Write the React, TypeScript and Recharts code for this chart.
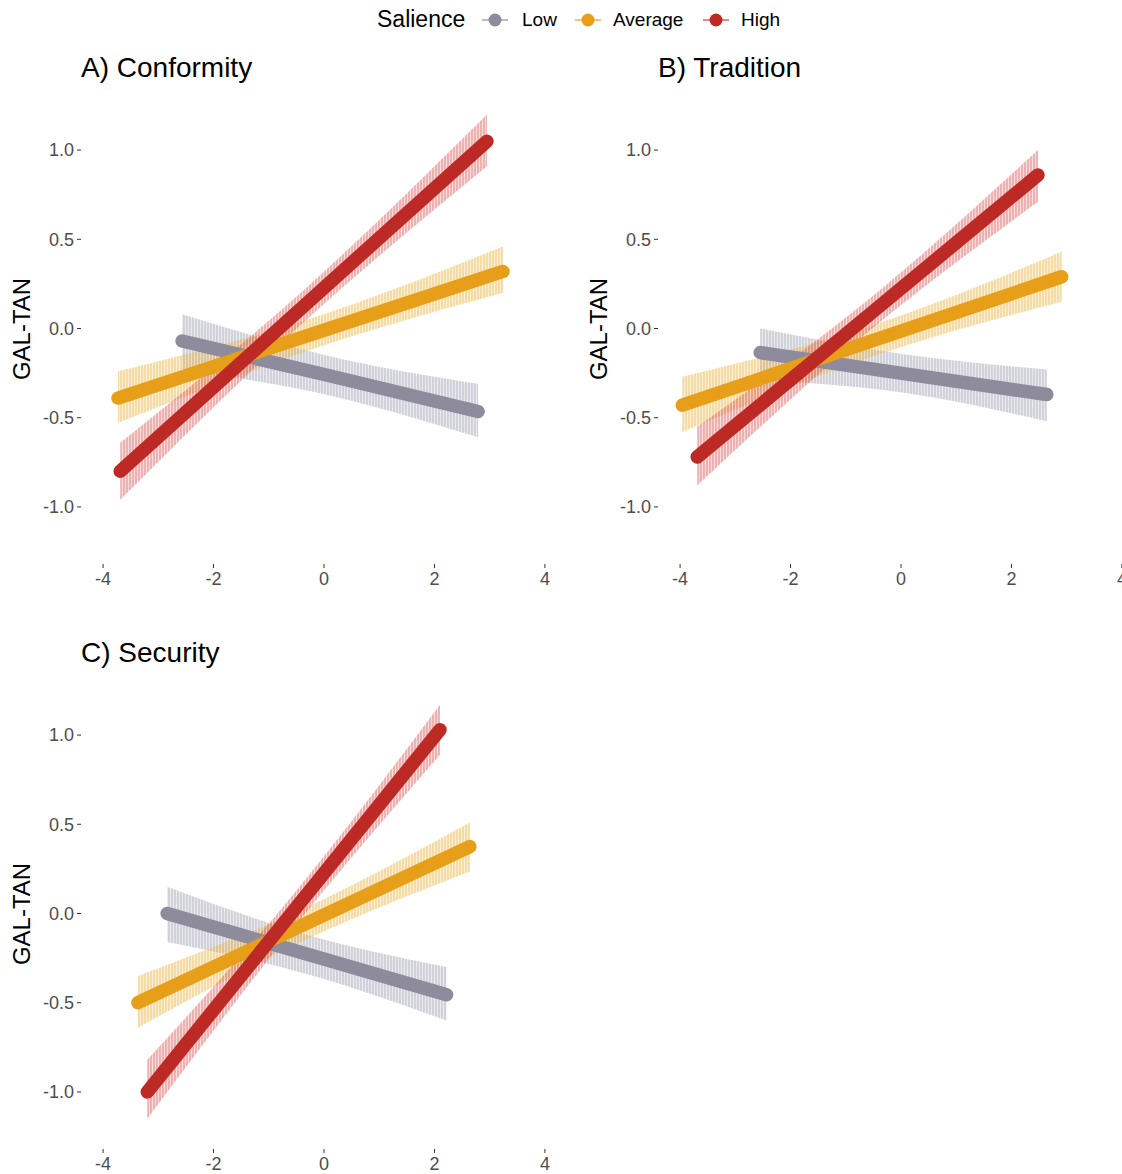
import React from 'react';
import { ComposedChart, Line, Area, XAxis, YAxis } from 'recharts';

// values: x = predictor, y = fitted GAL-TAN, lo/hi = band
const conformityLow = [
    { x: -2.57, y: -0.07, lo: -0.23, hi: 0.08 },
    { x: 0.1, y: -0.265, lo: -0.375, hi: -0.155 },
    { x: 2.79, y: -0.465, lo: -0.61, hi: -0.31 },
];
const conformityAverage = [
    { x: -3.73, y: -0.39, lo: -0.53, hi: -0.24 },
    { x: -0.25, y: -0.035, lo: -0.12, hi: 0.055 },
    { x: 3.24, y: 0.32, lo: 0.2, hi: 0.46 },
];
const conformityHigh = [
    { x: -3.69, y: -0.8, lo: -0.96, hi: -0.64 },
    { x: -0.37, y: 0.125, lo: 0.035, hi: 0.215 },
    { x: 2.95, y: 1.05, lo: 0.91, hi: 1.2 },
];

const traditionLow = [
    { x: -2.55, y: -0.135, lo: -0.29, hi: 0.0 },
    { x: 0.05, y: -0.253, lo: -0.36, hi: -0.145 },
    { x: 2.64, y: -0.37, lo: -0.52, hi: -0.23 },
];
const traditionAverage = [
    { x: -3.96, y: -0.43, lo: -0.58, hi: -0.27 },
    { x: -0.5, y: -0.067, lo: -0.155, hi: 0.02 },
    { x: 2.91, y: 0.29, lo: 0.15, hi: 0.43 },
];
const traditionHigh = [
    { x: -3.69, y: -0.72, lo: -0.88, hi: -0.55 },
    { x: -0.6, y: 0.071, lo: -0.02, hi: 0.16 },
    { x: 2.48, y: 0.86, lo: 0.71, hi: 1.0 },
];

const securityLow = [
    { x: -2.84, y: 0.0, lo: -0.16, hi: 0.15 },
    { x: -0.3, y: -0.228, lo: -0.34, hi: -0.12 },
    { x: 2.22, y: -0.455, lo: -0.6, hi: -0.3 },
];
const securityAverage = [
    { x: -3.37, y: -0.5, lo: -0.64, hi: -0.35 },
    { x: -0.35, y: -0.06, lo: -0.15, hi: 0.03 },
    { x: 2.64, y: 0.375, lo: 0.235, hi: 0.51 },
];
const securityHigh = [
    { x: -3.2, y: -1.0, lo: -1.15, hi: -0.82 },
    { x: -0.55, y: 0.015, lo: -0.08, hi: 0.11 },
    { x: 2.1, y: 1.03, lo: 0.89, hi: 1.17 },
];

const xTicks = [-4, -2, 0, 2, 4];
const yTicks = [-1, -0.5, 0, 0.5, 1];
const levels = ['Low', 'Average', 'High'];

const LINE_COLORS: Record<string, string> = { Low: '#8D8B9C', Average: '#E79F1A', High: '#BD2A26' };
const HATCH_COLORS: Record<string, string> = { Low: '#A4A3B4', Average: '#EDB54A', High: '#E0625F' };

const FONT = '"Liberation Sans", Arial, Helvetica, sans-serif';
const W = 600;
const H = 600;

type Row = { x: number; y: number; lo: number; hi: number };

const Panel = ({ id, title, left, top, series }: { id: string; title: string; left: number; top: number; series: Row[][] }) => (
    <>
        <div style={{ position: 'absolute', left: left + 81, top: top + 54, fontSize: 28, lineHeight: '28px', color: '#000', whiteSpace: 'nowrap' }}>
            {title}
        </div>
        <div
            style={{
                position: 'absolute',
                left: left + 22,
                top: top + 329,
                fontSize: 24,
                lineHeight: '24px',
                whiteSpace: 'nowrap',
                transform: 'translate(-50%, -50%) rotate(-90deg)',
            }}
        >
            GAL-TAN
        </div>
        <div style={{ position: 'absolute', left, top }}>
            <ComposedChart width={W} height={H} margin={{ top: 93, right: 33, left: 0, bottom: 6 }}>
                <defs>
                    {levels.map((lv) => (
                        <pattern key={lv} id={`hatch-${id}-${lv}`} width={3} height={10} patternUnits='userSpaceOnUse'>
                            <rect width={3} height={10} fill={HATCH_COLORS[lv]} fillOpacity={0.22} />
                            <line x1={1} y1={0} x2={1} y2={10} stroke={HATCH_COLORS[lv]} strokeOpacity={0.6} strokeWidth={1.2} />
                        </pattern>
                    ))}
                </defs>
                <XAxis
                    type='number'
                    dataKey='x'
                    domain={[-4.4, 4.4]}
                    ticks={xTicks}
                    allowDataOverflow
                    axisLine={false}
                    tickSize={4}
                    tickMargin={4}
                    tickLine={{ stroke: '#333333' }}
                    tick={{ fill: '#4D4D4D', fontSize: 18, fontFamily: FONT }}
                    height={30}
                />
                <YAxis
                    type='number'
                    domain={[-1.32, 1.32]}
                    ticks={yTicks}
                    allowDataOverflow
                    axisLine={false}
                    tickSize={4}
                    tickMargin={3}
                    tickLine={{ stroke: '#333333' }}
                    tickFormatter={(v: number) => v.toFixed(1)}
                    tick={{ fill: '#4D4D4D', fontSize: 18, fontFamily: FONT }}
                    width={81}
                />
                {series.map((d, i) => (
                    <Area
                        key={`band-${levels[i]}`}
                        data={d}
                        type='monotone'
                        dataKey={(r: Row) => [r.lo, r.hi]}
                        stroke='none'
                        fill={`url(#hatch-${id}-${levels[i]})`}
                        fillOpacity={1}
                        dot={false}
                        activeDot={false}
                        isAnimationActive={false}
                    />
                ))}
                {series.map((d, i) => (
                    <Line
                        key={`line-${levels[i]}`}
                        data={d}
                        type='linear'
                        dataKey='y'
                        stroke={LINE_COLORS[levels[i]]}
                        strokeWidth={13.5}
                        strokeLinecap='round'
                        dot={false}
                        activeDot={false}
                        isAnimationActive={false}
                    />
                ))}
            </ComposedChart>
        </div>
    </>
);

const LegendKey = ({ lv, left }: { lv: string; left: number }) => (
    <svg style={{ position: 'absolute', left, top: 13 }} width={26} height={14}>
        <line x1={0} y1={7} x2={26} y2={7} stroke={HATCH_COLORS[lv]} strokeWidth={1.5} />
        <circle cx={13} cy={7} r={6.5} fill={LINE_COLORS[lv]} />
    </svg>
);

export default function App() {
    return (
        <div
            style={{
                position: 'absolute',
                left: 0,
                top: 0,
                width: 1122,
                height: 1174,
                overflow: 'hidden',
                background: '#fff',
                fontFamily: FONT,
                color: '#000',
            }}
        >
            <div style={{ position: 'absolute', left: 377, top: 8, fontSize: 23, lineHeight: '23px' }}>Salience</div>
            <LegendKey lv='Low' left={482} />
            <div style={{ position: 'absolute', left: 522, top: 10, fontSize: 19, lineHeight: '19px' }}>Low</div>
            <LegendKey lv='Average' left={575} />
            <div style={{ position: 'absolute', left: 613, top: 10, fontSize: 19, lineHeight: '19px' }}>Average</div>
            <LegendKey lv='High' left={703} />
            <div style={{ position: 'absolute', left: 741, top: 10, fontSize: 19, lineHeight: '19px' }}>High</div>

            <Panel id='a' title='A) Conformity' left={0} top={0} series={[conformityLow, conformityAverage, conformityHigh]} />
            <Panel id='b' title='B) Tradition' left={577} top={0} series={[traditionLow, traditionAverage, traditionHigh]} />
            <Panel id='c' title='C) Security' left={0} top={585} series={[securityLow, securityAverage, securityHigh]} />
        </div>
    );
}
